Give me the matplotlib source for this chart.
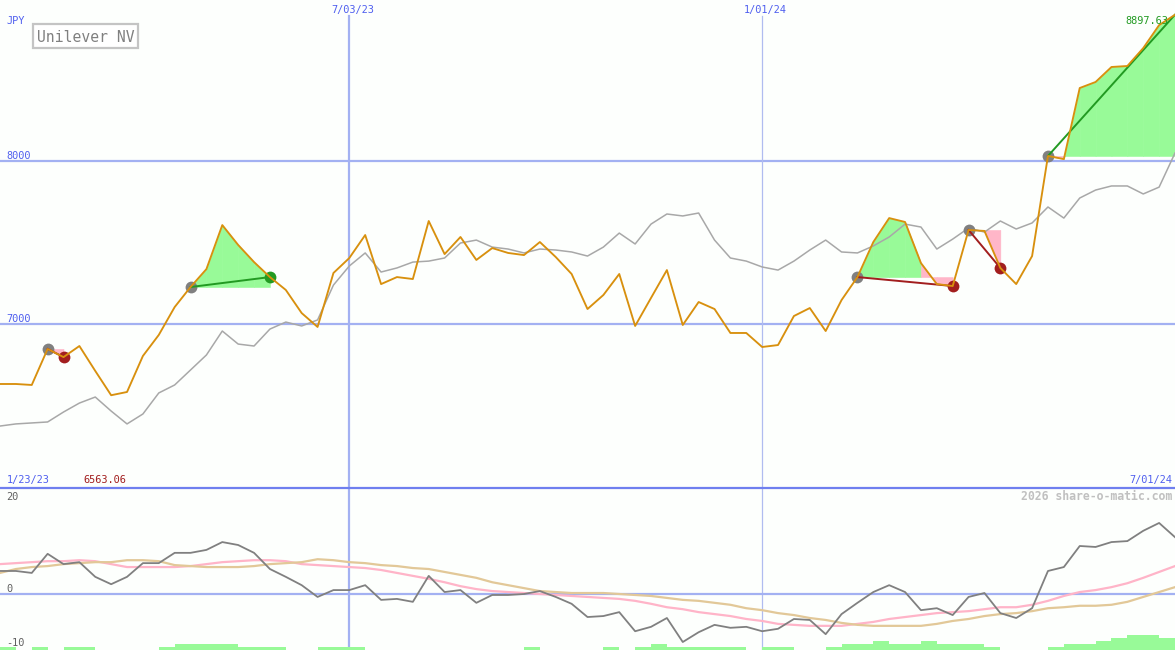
import matplotlib
matplotlib.use("Agg")
import matplotlib.pyplot as plt
import pandas as pd
from matplotlib.patches import Rectangle
from matplotlib.lines import Line2D

# ---------------- data ----------------
start_date = "2023-01-30"
n_weeks = 75
dates = pd.date_range(start_date, periods=n_weeks, freq="7D")

price = [6632, 6632, 6626, 6847, 6797, 6865, 6712, 6563.06, 6583, 6804,
         6933, 7104, 7227, 7337, 7607, 7485, 7380, 7288, 7209, 7067,
         6982, 7313, 7405, 7546, 7245, 7288, 7276, 7632, 7429, 7534,
         7393, 7466, 7436, 7423, 7503, 7411, 7307, 7092, 7178, 7307,
         6988, 7160, 7331, 6994, 7135, 7092, 6945, 6945, 6859, 6871,
         7049, 7098, 6957, 7147, 7288, 7503, 7650, 7626, 7374, 7245,
         7233, 7577, 7571, 7344, 7245, 7417, 8031, 8012, 8448, 8485,
         8577, 8583, 8693, 8834, 8897.63]

index_line = [6374, 6387, 6393, 6399, 6460, 6515, 6552, 6466, 6387, 6448,
              6577, 6626, 6718, 6810, 6957, 6877, 6865, 6969, 7012, 6988,
              7025, 7239, 7356, 7436, 7319, 7344, 7380, 7386, 7405, 7497,
              7515, 7472, 7460, 7436, 7460, 7454, 7442, 7417, 7472, 7558,
              7491, 7613, 7675, 7663, 7681, 7515, 7405, 7386, 7350, 7331,
              7386, 7454, 7515, 7442, 7436, 7479, 7534, 7613, 7595, 7460,
              7521, 7589, 7564, 7632, 7583, 7620, 7718, 7650, 7773, 7822,
              7847, 7847, 7798, 7840, 8049]

momentum = [4.7, 4.7, 4.3, 8.2, 6.1, 6.5, 3.5, 2.0, 3.5, 6.3,
            6.3, 8.4, 8.4, 9.0, 10.6, 10.0, 8.4, 5.1, 3.5, 1.8,
            -0.6, 0.8, 0.8, 1.8, -1.2, -1.0, -1.6, 3.7, 0.4, 0.8,
            -1.8, -0.2, -0.2, 0.0, 0.6, -0.6, -2.0, -4.7, -4.5, -3.7,
            -7.6, -6.7, -4.9, -9.8, -7.8, -6.3, -6.9, -6.7, -7.6, -7.1,
            -5.1, -5.3, -8.2, -4.1, -1.8, 0.4, 1.8, 0.4, -3.3, -2.9,
            -4.3, -0.6, 0.2, -3.9, -4.9, -2.9, 4.7, 5.5, 9.8, 9.6,
            10.6, 10.8, 12.9, 14.5, 11.6]

avg_fast = [6.1, 6.3, 6.5, 6.7, 6.7, 6.9, 6.7, 6.1, 5.5, 5.5,
            5.5, 5.5, 5.7, 6.1, 6.5, 6.7, 6.9, 6.9, 6.7, 6.1,
            5.9, 5.7, 5.5, 5.3, 4.9, 4.3, 3.7, 3.1, 2.4, 1.6,
            1.0, 0.6, 0.4, 0.2, 0.0, -0.2, -0.4, -0.6, -0.8, -1.0,
            -1.4, -2.0, -2.7, -3.1, -3.7, -4.1, -4.5, -5.1, -5.5, -6.1,
            -6.3, -6.5, -6.5, -6.5, -6.1, -5.7, -5.1, -4.7, -4.3, -3.9,
            -3.7, -3.5, -3.1, -2.7, -2.7, -2.2, -1.4, -0.4, 0.4, 0.8,
            1.4, 2.2, 3.3, 4.5, 5.7]

avg_slow = [4.3, 5.1, 5.5, 5.7, 6.1, 6.3, 6.5, 6.5, 6.9, 6.9,
            6.7, 5.9, 5.7, 5.5, 5.5, 5.5, 5.7, 6.1, 6.3, 6.5,
            7.1, 6.9, 6.5, 6.3, 5.9, 5.7, 5.3, 5.1, 4.5, 3.9,
            3.3, 2.4, 1.8, 1.2, 0.6, 0.4, 0.2, 0.2, 0.2, 0.0,
            -0.2, -0.4, -0.8, -1.2, -1.4, -1.8, -2.2, -2.9, -3.3, -3.9,
            -4.3, -4.9, -5.3, -5.9, -6.3, -6.5, -6.5, -6.5, -6.5, -6.1,
            -5.5, -5.1, -4.5, -4.1, -3.9, -3.5, -2.9, -2.7, -2.4, -2.4,
            -2.2, -1.6, -0.6, 0.4, 1.4]

# weekly bars (height in lower-panel units), one per week interval
week_bars = [0.6, 0, 0.6, 0, 0.6, 0.6, 0, 0, 0, 0,
             0.6, 1.2, 1.2, 1.2, 1.2, 0.6, 0.6, 0.6, 0, 0,
             0.6, 0.6, 0.6, 0, 0, 0, 0, 0, 0, 0,
             0, 0, 0, 0.6, 0, 0, 0, 0, 0.6, 0,
             0.6, 1.2, 0.6, 0.6, 0.6, 0.6, 0.6, 0, 0.6, 0.6,
             0, 0, 0.6, 1.2, 1.2, 1.8, 1.2, 1.2, 1.8, 1.2,
             1.2, 1.2, 0.6, 0, 0, 0, 0.6, 1.2, 1.2, 1.8,
             2.4, 3.1, 3.1, 2.4]

# trades: entry week index, exit week index
trade_entry = [3, 12, 54, 61, 66]
trade_exit = [4, 17, 60, 63, 74]
trade_win = [False, True, False, False, True]
trade_marker = [True, True, True, True, False]

price_ticks = [7000, 8000]
lower_ticks = [20, 0, -10]
date_grid = ["2023-07-03", "2024-01-01"]
date_grid_labels = ["7/03/23", "1/01/24"]

# ---------------- style ----------------
W, H = 1175, 650
BG = "#fdfffd"
BLUE_TXT = "#4f5fef"
GRID = "#a3b1f2"
ORANGE = "#d8900e"
GRAYLINE = "#a8a8a8"
GREEN_FILL = "#98fa98"
PINK_FILL = "#ffb6c8"
GREEN = "#229a22"
RED = "#a21e1e"
MONO = "DejaVu Sans Mono"
FS = 7.4

fig = plt.figure(figsize=(W / 100, H / 100), dpi=100, facecolor=BG)

def fx(x):
    return x / W

def fy(y):
    return 1 - y / H

split = 487
ax1 = fig.add_axes([0, fy(split), 1, split / H])
ax2 = fig.add_axes([0, 0, 1, 1 - split / H])
for ax in (ax1, ax2):
    ax.set_facecolor(BG)
    for s in ax.spines.values():
        s.set_visible(False)
    ax.set_xticks([])
    ax.set_yticks([])
    ax.set_xlim(dates[0], dates[-1])

ax1.set_ylim(6000, 8988)
ax2.set_ylim(-11.43, 21.84)

# grid lines
for tk in price_ticks:
    ax1.axhline(tk, color=GRID, lw=1.6, zorder=1)
gtop = (split - 16) / split
ax1.axvline(pd.Timestamp(date_grid[0]), ymax=gtop, color=GRID, lw=1.6, zorder=1)
ax1.axvline(pd.Timestamp(date_grid[1]), color="#b0bcf0", lw=0.9, ymax=gtop, zorder=1)
ax2.axvline(pd.Timestamp(date_grid[0]), color=GRID, lw=1.6, zorder=1)
ax2.axvline(pd.Timestamp(date_grid[1]), color="#b0bcf0", lw=0.9, zorder=1)
ax2.axhline(0, color=GRID, lw=1.6, zorder=1)

# trade fills
for e, x_ in zip(trade_entry, trade_exit):
    lvl = price[e]
    for i in range(e, x_):
        col = GREEN_FILL if price[i + 1] >= lvl else PINK_FILL
        ax1.fill_between(dates[i:i + 2], price[i:i + 2], lvl, facecolor=col,
                         edgecolor=col, lw=0.4, zorder=2)

# comparison line
ax1.plot(dates, index_line, color=GRAYLINE, lw=1.1, zorder=3)

# trade markers and lines
for e, x_, win, mk in zip(trade_entry, trade_exit, trade_win, trade_marker):
    col = GREEN if win else RED
    ax1.plot(dates[e], price[e], "o", ms=8.5, color="#808080", mec="none", zorder=4)
    if mk:
        ax1.plot(dates[x_], price[x_], "o", ms=8.5, color=col, mec="none", zorder=4)
    ax1.plot([dates[e], dates[x_]], [price[e], price[x_]], color=col, lw=1.4, zorder=5)

ax1.plot(dates, price, color=ORANGE, lw=1.35, zorder=6)

# lower panel
ax2.bar(dates[:-1], week_bars, width=7, align="edge", bottom=-11.43,
        color=GREEN_FILL, lw=0, zorder=2)
ax2.plot(dates, avg_fast, color="#ffb4c8", lw=1.6, zorder=3)
ax2.plot(dates, avg_slow, color="#e2c898", lw=1.6, zorder=3)
ax2.plot(dates, momentum, color="#808080", lw=1.3, zorder=4)

# separator
fig.add_artist(Line2D([0, 1], [fy(487.5), fy(487.5)], color="#6f7fef", lw=1.6))

# texts
def t(x, y, s, color=BLUE_TXT, ha="left", size=FS, weight="normal"):
    fig.text(fx(x), fy(y), s, color=color, ha=ha, va="baseline",
             fontsize=size, family=MONO, fontweight=weight)

t(6, 24, "JPY")
for d, lab in zip(date_grid, date_grid_labels):
    xd = (pd.Timestamp(d) - dates[0]) / (dates[-1] - dates[0]) * W
    t(xd + 3, 13, lab, ha="center")
t(6, 159, str(price_ticks[1]))
t(6, 322, str(price_ticks[0]))
t(1168, 24, f"{price[-1]:.2f}", color=GREEN, ha="right")
t(7, 483, "1/23/23")
t(83, 483, f"{min(price):.2f}", color=RED)
t(1172, 483, "7/01/24", ha="right")
t(1172, 500, "2026 share-o-matic.com", color="#c0c0c0", ha="right", size=8.3, weight="bold")
t(6, 500, str(lower_ticks[0]), color="#606060")
t(6, 592, str(lower_ticks[1]), color="#606060")
t(6, 646, str(lower_ticks[2]), color="#606060")

# title box
fig.add_artist(Rectangle((fx(33), fy(48)), fx(105), 24 / H, transform=fig.transFigure,
                         facecolor="white", edgecolor="#c4c4c4", lw=1.6, zorder=10))
fig.text(fx(37), fy(41.5), "Unilever NV", color="#808080", fontsize=10.6, family=MONO,
         va="baseline", ha="left", zorder=11)

fig.savefig("out.png", dpi=100, facecolor=BG)
